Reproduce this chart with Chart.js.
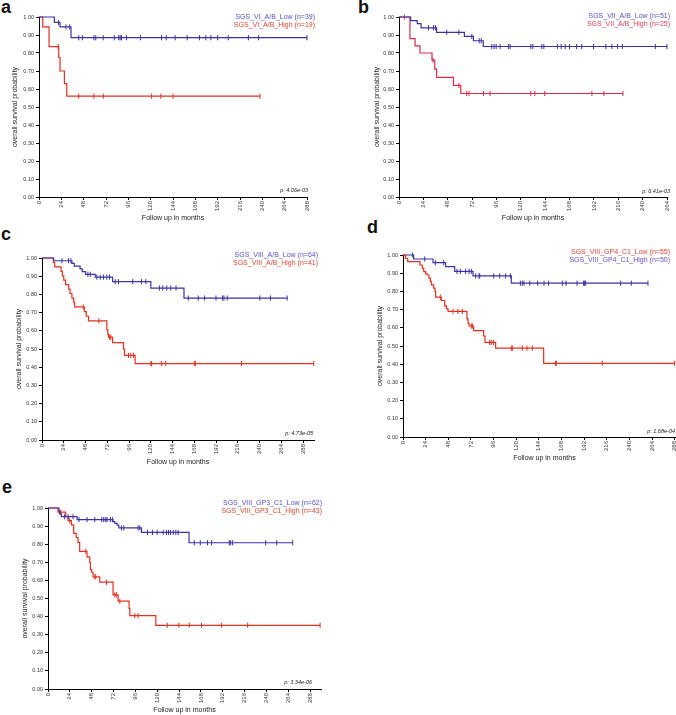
<!DOCTYPE html>
<html>
<head>
<meta charset="utf-8">
<script src="https://cdn.jsdelivr.net/npm/chart.js@4.4.0/dist/chart.umd.min.js"></script>
<style>
  body { margin: 0; width: 676px; height: 715px; overflow: hidden; background: #fff; position: relative; }
  canvas { position: absolute; }
  .lt { position: absolute; font: bold 18px "Liberation Sans", Arial, sans-serif; line-height: 18px; color: #111; }
</style>
</head>
<body>
<div class="lt" style="left:1px;top:-2px">a</div>
<div class="lt" style="left:358px;top:-2px">b</div>
<div class="lt" style="left:1px;top:225px">c</div>
<div class="lt" style="left:367px;top:218px">d</div>
<div class="lt" style="left:2px;top:478px">e</div>
<canvas id="chartA" width="340" height="240" style="left:0;top:0"></canvas>
<canvas id="chartB" width="336" height="240" style="left:340px;top:0"></canvas>
<canvas id="chartC" width="340" height="240" style="left:0;top:240px"></canvas>
<canvas id="chartD" width="360" height="240" style="left:340px;top:240px"></canvas>
<canvas id="chartE" width="340" height="235" style="left:0;top:480px"></canvas>
<script>
// panel a
const aLowTimes = [16.5, 22.6, 34.4];
const aLowSurv = [0.97, 0.945, 0.885];
const aLowCens = [21, 29, 33, 42.7, 46.6, 59, 61, 69, 81, 85.7, 87.2, 88.6, 94, 109, 131.6, 136.7, 146.3, 159.3, 172.5, 179.3, 184.7, 192, 203.4, 225, 236, 288];
const aHighTimes = [4, 10.8, 21.2, 22.6, 27.3, 29.8];
const aHighSurv = [0.945, 0.835, 0.775, 0.70, 0.63, 0.56];
const aHighCens = [20.6, 42.7, 59, 69, 121, 131, 144, 237.5];

// panel b
const bLowTimes = [11.5, 18, 21.7, 37, 64.4, 73.3, 83];
const bLowSurv = [0.98, 0.963, 0.94, 0.915, 0.892, 0.868, 0.836];
const bLowCens = [29, 34, 36, 47, 59, 71.7, 79, 81, 91.4, 93.7, 95.7, 99.6, 107.8, 109.5, 129.8, 131.8, 140.7, 142.7, 156, 159.8, 163.7, 168, 175, 180, 191.6, 203.8, 209.7, 215.3, 220, 252.5, 264];
const bHighTimes = [10.8, 15.8, 20.7, 32.5, 35.2, 37.1, 53.6, 60.8];
const bHighSurv = [0.88, 0.84, 0.80, 0.76, 0.71, 0.665, 0.62, 0.575];
const bHighCens = [5.3, 33.5, 59, 66.7, 69, 83.2, 89.7, 129.8, 133.8, 143.6, 190, 201.8, 220.6];

// panel c
const cLowTimes = [12.8, 33, 35.6, 42, 44.4, 48, 58.7, 77.8, 120, 156.6];
const cLowSurv = [0.985, 0.97, 0.955, 0.94, 0.925, 0.91, 0.895, 0.87, 0.835, 0.78];
const cLowCens = [22, 29.3, 31.9, 50.6, 53.2, 60.5, 64.2, 67.9, 71.5, 74.5, 80.7, 84.4, 100.1, 109.7, 114.5, 129.5, 133.2, 137.6, 142, 147.8, 161.4, 172.4, 179.4, 191.9, 199.2, 200.7, 204.3, 240.3, 252, 270.4];
const cHighTimes = [12.5, 14, 21, 22.5, 24, 26, 29.5, 31, 33, 35, 36, 46.6, 48.8, 51.4, 71.5, 72.6, 73.4, 77.8, 89.9, 91, 102.7];
const cHighSurv = [0.976, 0.951, 0.927, 0.902, 0.878, 0.854, 0.829, 0.805, 0.78, 0.756, 0.732, 0.705, 0.68, 0.655, 0.605, 0.58, 0.565, 0.535, 0.50, 0.465, 0.42];
const cHighCens = [45.5, 62.7, 74.5, 75.9, 95.4, 97.9, 100.9, 120, 121, 131.7, 136.5, 168, 169.1, 220, 299.7];

// panel d
const dLowTimes = [2.5, 5, 18, 20.5, 22, 24, 25.4, 27.6, 29, 30, 32.5, 33.9, 34.6, 40.6, 44.2, 46, 47.7, 67.8, 68.9, 70, 74.9, 85.5, 86.9, 98.2, 149.1];
const dLowSurv = [0.982, 0.964, 0.945, 0.927, 0.909, 0.898, 0.89, 0.873, 0.855, 0.836, 0.818, 0.80, 0.768, 0.75, 0.72, 0.705, 0.69, 0.65, 0.625, 0.61, 0.585, 0.555, 0.52, 0.488, 0.405];
const dLowCens = [39.6, 53, 58.3, 62.9, 72.4, 73.5, 91.9, 93.6, 96.1, 114.8, 115.9, 126.5, 131.4, 137.1, 161.5, 162.5, 211.3, 288];
const dHighTimes = [11.3, 31.8, 45.2, 54.8, 74.2, 114.8];
const dHighSurv = [0.978, 0.958, 0.936, 0.91, 0.885, 0.845];
const dHighCens = [9.9, 23, 34.3, 43.1, 57.2, 60.8, 66.4, 70, 72.4, 77, 80.6, 81.3, 96.1, 102.5, 108.8, 113.8, 124.4, 126.5, 128.3, 134.3, 142.8, 149.5, 154.4, 168.9, 172.8, 184.5, 191.5, 192.6, 193.6, 230.7, 242, 259.7];

// panel e
const eLowTimes = [12.1, 12.8, 14.7, 32, 71.5, 73.4, 76, 77.8, 102.7, 155];
const eLowSurv = [0.984, 0.968, 0.952, 0.936, 0.925, 0.915, 0.905, 0.89, 0.865, 0.808];
const eLowCens = [18.3, 22, 27.5, 34.1, 42.9, 51.4, 59.1, 61.3, 63.5, 64.9, 68.6, 70.8, 80.7, 83.3, 99, 100.9, 109.3, 114.8, 120, 126.6, 130.2, 132.4, 134.6, 137.6, 140.5, 143.1, 160.7, 167.3, 175.3, 179.7, 199.2, 200.7, 202.9, 239.2, 251.3, 268.9];
const eHighTimes = [11, 19.4, 22, 25.7, 28.2, 31, 33, 34.8, 42.9, 45.9, 46.6, 48, 49.5, 56.9, 71.5, 77, 89.1, 89.9, 118.5];
const eHighSurv = [0.977, 0.953, 0.93, 0.907, 0.86, 0.837, 0.81, 0.76, 0.73, 0.70, 0.66, 0.645, 0.62, 0.59, 0.52, 0.485, 0.445, 0.405, 0.352];
const eHighCens = [13.9, 23.8, 41.5, 51.4, 52.5, 64.2, 73.4, 75.2, 78.9, 95.4, 99, 131, 143.8, 155.2, 168.7, 190.8, 219.4, 299];

const BLUE = '#3b33a8';
const RED = '#e4301f';
const BLUE_TXT = '#5a4fcf';
const RED_TXT = '#e6452f';
const FONT = '"Liberation Sans", Arial, sans-serif';

function survAt(t, times, surv) {
  let s = 1;
  for (let i = 0; i < times.length; i++) if (times[i] <= t) s = surv[i];
  return s;
}

// small plugin for the legend text and p-value
const kmText = {
  id: 'kmText',
  afterDraw(chart, args, o) {
    const ctx = chart.ctx;
    ctx.save();
    ctx.textAlign = 'right';
    ctx.textBaseline = 'middle';
    ctx.font = '7px ' + FONT;
    o.lines.forEach((l, i) => {
      ctx.fillStyle = l.color;
      ctx.fillText(l.text, o.x, o.y + i * 8.5);
    });
    ctx.font = 'italic 5.5px ' + FONT;
    ctx.fillStyle = '#222';
    ctx.fillText(o.p, o.px, o.py);
    ctx.restore();
  }
};

function makePanel(id, series, xMax, g, leg, pv) {
  const datasets = [];
  series.forEach(s => {
    const end = Math.max(...s.cens);
    const pts = [{ x: 0, y: 1 }].concat(s.times.map((t, i) => ({ x: t, y: s.surv[i] })));
    pts.push({ x: end, y: s.surv[s.surv.length - 1] });
    datasets.push({
      data: pts, showLine: true, stepped: true, borderColor: s.color, borderWidth: 1.2,
      pointRadius: 0, clip: 4
    });
    datasets.push({
      data: s.cens.map(t => ({ x: t, y: survAt(t, s.times, s.surv) })),
      showLine: false, pointStyle: 'line', rotation: 90, pointRadius: 2.6,
      borderColor: s.color, borderWidth: 1, clip: 4
    });
  });
  const padL = g.yt - 4.2;
  const xH = g.xt - g.B + 4.2;
  const canvas = document.getElementById(id);
  return new Chart(canvas, {
    type: 'scatter',
    data: { datasets: datasets },
    options: {
      responsive: false,
      animation: false,
      devicePixelRatio: 1,
      events: [],
      layout: {
        autoPadding: false,
        padding: { left: padL, top: g.T, right: canvas.width - g.R, bottom: canvas.height - g.B - xH }
      },
      plugins: {
        legend: { display: false },
        tooltip: { enabled: false },
        kmText: { lines: leg.lines, x: leg.x, y: leg.y, p: pv.text, px: pv.x, py: pv.y }
      },
      scales: {
        x: {
          type: 'linear', min: 0, max: xMax,
          afterFit: s => { s.height = xH; },
          afterBuildTicks: s => { s.ticks = s.ticks.filter(t => t.value % 24 === 0); },
          ticks: { stepSize: 24, autoSkip: false, maxRotation: 90, minRotation: 90, padding: 1, color: '#333', font: { family: FONT, size: 6 } },
          grid: { drawOnChartArea: false, drawTicks: true, tickLength: 3, color: '#000' },
          border: { color: '#000', width: 1 },
          title: { display: true, text: 'Follow up in months', padding: 0, color: '#222', font: { family: FONT, size: 7, lineHeight: 1.2 } }
        },
        y: {
          min: 0, max: 1,
          afterFit: s => { s.width = g.L - padL; },
          ticks: { stepSize: 0.1, padding: 2, color: '#333', font: { family: FONT, size: 5.5 }, callback: v => v.toFixed(2) },
          grid: { drawOnChartArea: false, drawTicks: true, tickLength: 3, color: '#000' },
          border: { color: '#000', width: 1 },
          title: { display: true, text: 'overall survival probability', padding: 0, color: '#222', font: { family: FONT, size: 7, lineHeight: 1.2 } }
        }
      }
    },
    plugins: [kmText]
  });
}

makePanel('chartA', [
  { times: aLowTimes, surv: aLowSurv, cens: aLowCens, color: BLUE },
  { times: aHighTimes, surv: aHighSurv, cens: aHighCens, color: RED }
], 288, { yt: 15, L: 39, R: 307, T: 17, B: 197, xt: 218 },
  { x: 315, y: 17, lines: [{ text: 'SGS_VI_A/B_Low (n=39)', color: BLUE_TXT }, { text: 'SGS_VI_A/B_High (n=19)', color: RED_TXT }] },
  { text: 'p: 4.06e-03', x: 308, y: 190 });

makePanel('chartB', [
  { times: bLowTimes, surv: bLowSurv, cens: bLowCens, color: BLUE },
  { times: bHighTimes, surv: bHighSurv, cens: bHighCens, color: '#d82a4a' }
], 264, { yt: 37, L: 59, R: 327, T: 17, B: 197, xt: 218 },
  { x: 330, y: 16, lines: [{ text: 'SGS_VII_A/B_Low (n=51)', color: BLUE_TXT }, { text: 'SGS_VII_A/B_High (n=25)', color: '#dd3c5a' }] },
  { text: 'p: 6.41e-03', x: 330, y: 191 });

makePanel('chartC', [
  { times: cLowTimes, surv: cLowSurv, cens: cLowCens, color: BLUE },
  { times: cHighTimes, surv: cHighSurv, cens: cHighCens, color: RED }
], 300, { yt: 19, L: 42, R: 314, T: 18, B: 200, xt: 222 },
  { x: 318, y: 15, lines: [{ text: 'SGS_VIII_A/B_Low (n=64)', color: BLUE_TXT }, { text: 'SGS_VIII_A/B_High (n=41)', color: RED_TXT }] },
  { text: 'p: 4.73e-05', x: 313, y: 193 });

makePanel('chartD', [
  { times: dLowTimes, surv: dLowSurv, cens: dLowCens, color: RED },
  { times: dHighTimes, surv: dHighSurv, cens: dHighCens, color: BLUE }
], 300, { yt: 40, L: 63, R: 346, T: 15, B: 197, xt: 218 },
  { x: 330, y: 12, lines: [{ text: 'SGS_VIII_GP4_C1_Low (n=55)', color: RED_TXT }, { text: 'SGS_VIII_GP4_C1_High (n=50)', color: BLUE_TXT }] },
  { text: 'p: 1.68e-04', x: 335, y: 191 });

makePanel('chartE', [
  { times: eLowTimes, surv: eLowSurv, cens: eLowCens, color: BLUE },
  { times: eHighTimes, surv: eHighSurv, cens: eHighCens, color: RED }
], 300, { yt: 25, L: 48, R: 321, T: 28, B: 209, xt: 230 },
  { x: 322, y: 23, lines: [{ text: 'SGS_VIII_GP3_C1_Low (n=62)', color: BLUE_TXT }, { text: 'SGS_VIII_GP3_C1_High (n=43)', color: RED_TXT }] },
  { text: 'p: 3.34e-06', x: 312, y: 202 });
</script>
</body>
</html>
